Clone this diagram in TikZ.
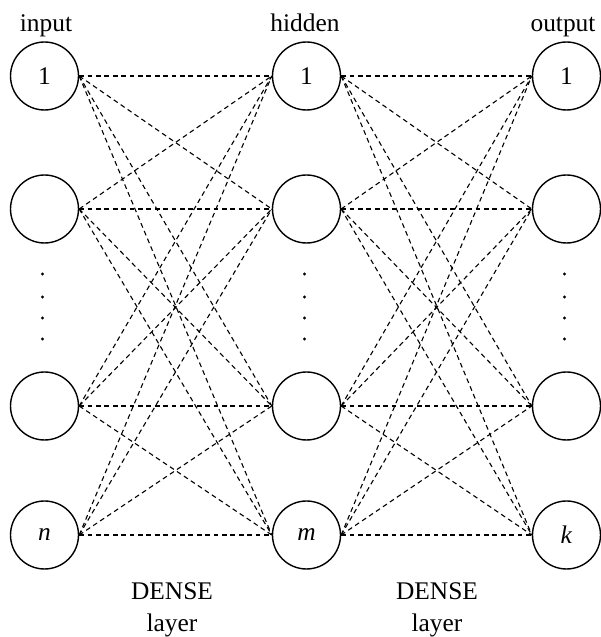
\documentclass[tikz,border=0pt]{standalone}
\usepackage{fontspec}
\setmainfont{Liberation Serif}
\begin{document}
\begin{tikzpicture}[x=0.5pt,y=0.5pt,font=\fontsize{12.7}{15}\selectfont,
        neuron/.style={circle,draw,line width=0.7pt,minimum size=34pt,inner sep=0pt},
        link/.style={dash pattern=on 2.4pt off 1.8pt,line width=0.55pt},
        layerdot/.style={fill,circle,inner sep=0pt,minimum size=1.6pt}]
        \useasboundingbox (0,0) rectangle (600,637);

        % three columns of neurons
        \foreach \name/\x/\first/\last in {in/44.5/1/\textit{n},hid/306.5/1/\textit{m},out/566.5/1/\textit{k}} {
            \node[neuron] (\name1) at (\x,561) {\first};
            \node[neuron] (\name2) at (\x,428) {};
            \node[neuron] (\name3) at (\x,231) {};
            \node[neuron] (\name4) at (\x,102) {\last};
            \foreach \y in {298,319,340,363}
                \node[layerdot] at (\x-2,\y) {};
        }

        \node[anchor=base] (inlabel) at (46,605) {input};
        \node[anchor=base] (hidlabel) at (305,605) {hidden};
        \node[anchor=base] (outlabel) at (563,605) {output};

        % dense connections
        \foreach \i in {1,...,4}
            \foreach \j in {1,...,4} {
                \draw[link] (in\i.east) -- (hid\j.west);
                \draw[link] (hid\i.east) -- (out\j.west);
            }

        \node[anchor=base] (dense1) at (172,37) {DENSE};
        \node[anchor=base] (layer1) at (172,5) {layer};
        \node[anchor=base] (dense2) at (437,37) {DENSE};
        \node[anchor=base] (layer2) at (437,5) {layer};
    \end{tikzpicture}
\end{document}
